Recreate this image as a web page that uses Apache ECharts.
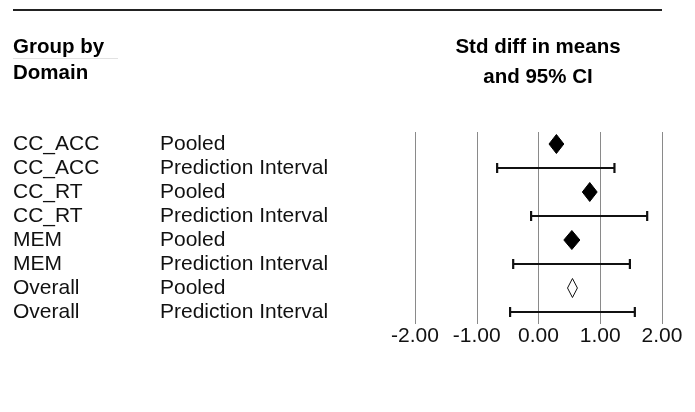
<!DOCTYPE html>
<html>
<head>
<meta charset="utf-8">
<script src="https://cdn.jsdelivr.net/npm/echarts@6/dist/echarts.min.js"></script>
<style>
html,body{margin:0;padding:0;background:#fff;}
#c{width:695px;height:412px;}
</style>
</head>
<body>
<div id="c"></div>
<script>
// ---- data ----
const domains = ['CC_ACC', 'CC_ACC', 'CC_RT', 'CC_RT', 'MEM', 'MEM', 'Overall', 'Overall'];
const kinds = ['Pooled', 'Prediction Interval', 'Pooled', 'Prediction Interval', 'Pooled', 'Prediction Interval', 'Pooled', 'Prediction Interval'];
const effect = [0.29, 0.29, 0.83, 0.83, 0.54, 0.54, 0.55, 0.55];
const lower = [0.17, -0.67, 0.71, -0.12, 0.41, -0.41, 0.47, -0.46];
const upper = [0.41, 1.23, 0.95, 1.76, 0.67, 1.48, 0.63, 1.56];
const xTicks = [-2, -1, 0, 1, 2];
const leftHeader = 'Group by\nDomain';
const rightHeader = 'Std diff in means\nand 95% CI';

const FONT = '"Liberation Sans", Arial, Helvetica, sans-serif';
const categories = domains.map((d, i) => d + '|' + kinds[i]);

function renderItem(params, api) {
  const i = api.value(0);
  const lo = api.coord([api.value(1), i]);
  const mid = api.coord([api.value(2), i]);
  const hi = api.coord([api.value(3), i]);
  const y = mid[1];
  if (kinds[i] === 'Prediction Interval') {
    const cap = 5;
    const st = { stroke: '#111', lineWidth: 2.2 };
    return {
      type: 'group',
      children: [
        { type: 'line', shape: { x1: lo[0], y1: y, x2: hi[0], y2: y }, style: st },
        { type: 'line', shape: { x1: lo[0], y1: y - cap, x2: lo[0], y2: y + cap }, style: st },
        { type: 'line', shape: { x1: hi[0], y1: y - cap, x2: hi[0], y2: y + cap }, style: st }
      ]
    };
  }
  const h = 9.5;
  const hollow = domains[i] === 'Overall';
  return {
    type: 'polygon',
    shape: { points: [[lo[0], y], [mid[0], y - h], [hi[0], y], [mid[0], y + h]] },
    style: hollow ? { fill: '#fff', stroke: '#111', lineWidth: 1 } : { fill: '#000', stroke: '#000', lineWidth: 1 }
  };
}

const chart = echarts.init(document.getElementById('c'), null, { renderer: 'canvas' });
chart.setOption({
  animation: false,
  backgroundColor: '#fff',
  textStyle: { fontFamily: FONT },
  title: [
    {
      text: leftHeader, left: 13, top: 34, padding: 0,
      textStyle: { fontFamily: FONT, fontSize: 20.5, fontWeight: 'bold', color: '#000', lineHeight: 26 }
    },
    {
      text: rightHeader, left: 538, top: 32, padding: 0, textAlign: 'center',
      textStyle: { fontFamily: FONT, fontSize: 20.5, fontWeight: 'bold', color: '#000', lineHeight: 30, align: 'center' }
    }
  ],
  graphic: [
    { type: 'line', shape: { x1: 13, y1: 10, x2: 662, y2: 10 }, style: { stroke: '#222', lineWidth: 2 } },
    { type: 'line', shape: { x1: 13, y1: 58.5, x2: 118, y2: 58.5 }, style: { stroke: '#e2e2e2', lineWidth: 1 } }
  ],
  grid: { left: 415, width: 247, top: 132, height: 192, containLabel: false },
  xAxis: {
    type: 'value', min: -2, max: 2, interval: 1,
    axisLine: { show: false }, axisTick: { show: false },
    splitLine: { show: true, lineStyle: { color: '#8a8a8a', width: 1 } },
    axisLabel: {
      fontFamily: FONT, fontSize: 21, color: '#111', margin: 2,
      formatter: v => xTicks.includes(v) ? v.toFixed(2) : ''
    }
  },
  yAxis: {
    type: 'category', data: categories, inverse: true,
    axisLine: { show: false }, axisTick: { show: false }, splitLine: { show: false },
    axisLabel: {
      align: 'left', margin: 402, color: '#111',
      formatter: v => { const p = v.split('|'); return '{a|' + p[0] + '}{b|' + p[1] + '}'; },
      rich: {
        a: { width: 147, fontSize: 21, fontFamily: FONT, color: '#111' },
        b: { fontSize: 21, fontFamily: FONT, color: '#111' }
      }
    }
  },
  series: [{
    type: 'custom',
    renderItem: renderItem,
    data: categories.map((c, i) => [i, lower[i], effect[i], upper[i]]),
    encode: { x: [1, 2, 3], y: 0 },
    clip: false
  }]
});
</script>
</body>
</html>
